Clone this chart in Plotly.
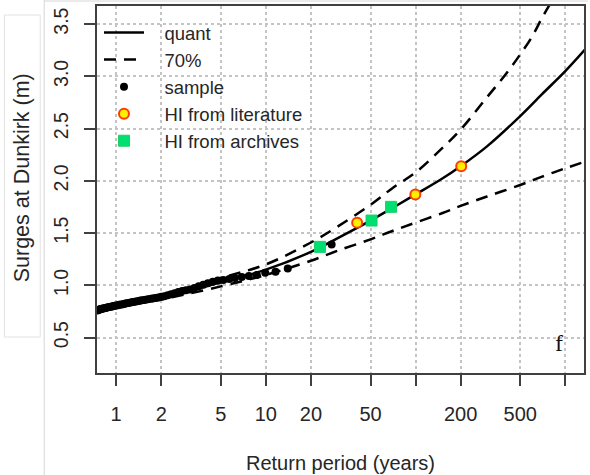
import plotly.graph_objects as go

# ---------------- data ----------------
curve_T = [0.7, 1, 2, 5, 10, 20, 30, 50, 70, 100, 150, 200, 300, 500, 700, 1000, 1400]
quant = [0.765, 0.80, 0.88, 1.03, 1.15, 1.32, 1.45, 1.62, 1.74, 1.87, 2.02, 2.14, 2.33, 2.62, 2.83, 3.05, 3.28]
lower70 = [0.755, 0.79, 0.865, 0.99, 1.10, 1.235, 1.33, 1.44, 1.52, 1.60, 1.69, 1.76, 1.85, 1.96, 2.04, 2.12, 2.19]
upper_T = [0.7, 1, 2, 5, 10, 20, 30, 50, 70, 100, 150, 200, 300, 400, 500, 600, 700, 750, 850]
upper70 = [0.775, 0.81, 0.895, 1.07, 1.20, 1.41, 1.56, 1.77, 1.93, 2.08, 2.31, 2.49, 2.80, 3.02, 3.21, 3.38, 3.56, 3.635, 3.77]

sample_T = [0.75, 0.76, 0.77, 0.78, 0.79, 0.80, 0.82, 0.83, 0.85, 0.86,
            0.88, 0.90, 0.92, 0.94, 0.96, 0.98, 1.00, 1.03, 1.05, 1.08,
            1.11, 1.14, 1.17, 1.21, 1.25, 1.29, 1.33, 1.38, 1.43, 1.48,
            1.54, 1.60, 1.67, 1.74, 1.82, 1.91, 2.00, 2.10, 2.21, 2.33,
            2.46, 2.60, 2.76, 2.93, 3.12, 3.33, 3.56, 3.82, 4.10, 4.42,
            4.78, 5.2, 5.7, 6.2, 6.9, 7.7, 8.7, 9.9, 11.6, 14.0, 27.5]
sample_v = [0.760, 0.765, 0.768, 0.770, 0.772, 0.775, 0.778, 0.780, 0.783, 0.786,
            0.789, 0.792, 0.795, 0.798, 0.801, 0.804, 0.807, 0.810, 0.813, 0.817,
            0.820, 0.824, 0.828, 0.832, 0.836, 0.840, 0.844, 0.848, 0.852, 0.856,
            0.860, 0.864, 0.868, 0.873, 0.878, 0.884, 0.890, 0.896, 0.905, 0.915,
            0.925, 0.935, 0.945, 0.952, 0.960, 0.975, 0.990, 1.005, 1.02, 1.035,
            1.045, 1.05, 1.06, 1.07, 1.08, 1.09, 1.10, 1.12, 1.13, 1.16, 1.39]

lit_T = [40.7, 99.6, 201.7]
lit_v = [1.60, 1.87, 2.14]
arch_T = [23.0, 50.8, 68.6]
arch_v = [1.368, 1.62, 1.751]

x_tickvals = [1, 2, 5, 10, 20, 50, 100, 200, 500, 1000]
x_ticktext = ["1", "2", "5", "10", "20", "50", "", "200", "500", ""]
y_tickvals = [0.5, 1.0, 1.5, 2.0, 2.5, 3.0, 3.5]
y_ticktext = ["0.5", "1.0", "1.5", "2.0", "2.5", "3.0", "3.5"]

# ---------------- layout geometry ----------------
W, H = 590, 475
ML, MR, MT, MB = 97, 4, 6, 102
PW, PH = W - ML - MR, H - MT - MB


def pxx(px):
    return (px - ML) / PW


def pxy(py):
    return (H - MB - py) / PH


FONT = "Liberation Sans, Arial, sans-serif"
TXT = "#262626"
DASH = "12px,8px"
PAD = "\u00a0\u00a0\u00a0"

fig = go.Figure()

fig.add_trace(go.Scatter(x=sample_T, y=sample_v, mode="markers", name=PAD + "sample",
                         marker=dict(symbol="circle", size=8, color="black"),
                         legendrank=3))
fig.add_trace(go.Scatter(x=curve_T, y=quant, mode="lines", name=PAD + "quant",
                         line=dict(color="black", width=2.5, shape="spline"),
                         legendrank=1))
fig.add_trace(go.Scatter(x=upper_T, y=upper70, mode="lines", name=PAD + "70%",
                         line=dict(color="black", width=2.5, dash=DASH, shape="spline"),
                         legendrank=2))
fig.add_trace(go.Scatter(x=curve_T, y=lower70, mode="lines", name="70% lower",
                         line=dict(color="black", width=2.5, dash=DASH, shape="spline"),
                         showlegend=False))
fig.add_trace(go.Scatter(x=lit_T, y=lit_v, mode="markers", name=PAD + "HI from literature",
                         marker=dict(symbol="circle", size=10, color="#ffee00",
                                     line=dict(color="#ff3a00", width=2)),
                         legendrank=4))
fig.add_trace(go.Scatter(x=arch_T, y=arch_v, mode="markers", name=PAD + "HI from archives",
                         marker=dict(symbol="square", size=11, color="#00e070",
                                     line=dict(color="#22cc66", width=1)),
                         legendrank=5))

axis_common = dict(showline=True, linecolor="#404040", linewidth=2, mirror=True,
                   ticks="outside", ticklen=11, tickwidth=2, tickcolor="#404040",
                   showgrid=True, gridcolor="#c4c4c4", gridwidth=1.5, griddash="dot",
                   zeroline=False)

fig.update_xaxes(type="log", range=[-0.128, 3.125], tickmode="array",
                 tickvals=x_tickvals, ticktext=x_ticktext, ticklabelstandoff=11,
                 tickfont=dict(family=FONT, size=20, color=TXT), **axis_common)
fig.update_yaxes(range=[0.161, 3.673], tickmode="array", tickvals=y_tickvals,
                 ticktext=y_ticktext, tickangle=-90, ticklabelstandoff=8,
                 tickfont=dict(family=FONT, size=19.5, color=TXT), **axis_common)

shapes = [
    dict(type="line", xref="paper", yref="paper", x0=pxx(44), x1=pxx(44), y0=pxy(0), y1=pxy(475),
         line=dict(color="#d6d6d6", width=1)),
    dict(type="line", xref="paper", yref="paper", x0=pxx(44), x1=pxx(590), y0=pxy(1), y1=pxy(1),
         line=dict(color="#d6d6d6", width=1)),
    dict(type="rect", xref="paper", yref="paper", x0=pxx(4), x1=pxx(40), y0=pxy(15), y1=pxy(337),
         line=dict(color="#e2e2e2", width=1)),
]

annotations = [
    dict(text="Return period (years)", xref="paper", yref="paper", x=pxx(342), y=pxy(463),
         showarrow=False, font=dict(family=FONT, size=20, color=TXT), xanchor="center", yanchor="middle"),
    dict(text="Surges at Dunkirk (m)", xref="paper", yref="paper", x=pxx(22), y=pxy(178),
         showarrow=False, textangle=-90, font=dict(family=FONT, size=21.5, color=TXT),
         xanchor="center", yanchor="middle"),
    dict(text="f", xref="paper", yref="paper", x=pxx(561), y=pxy(343),
         showarrow=False, font=dict(family="Liberation Serif, Times New Roman, serif", size=24, color="#111"),
         xanchor="center", yanchor="middle"),
]

fig.update_layout(
    width=W, height=H, margin=dict(l=ML, r=MR, t=MT, b=MB),
    paper_bgcolor="white", plot_bgcolor="white",
    showlegend=True,
    legend=dict(x=pxx(99), y=pxy(14), xanchor="left", yanchor="top",
                bgcolor="rgba(0,0,0,0)", font=dict(family=FONT, size=18.5, color=TXT),
                itemwidth=40, traceorder="normal"),
    shapes=shapes, annotations=annotations,
)

fig.write_html("out.html", config={"displayModeBar": False},
               post_script="document.body.style.margin='0px';document.body.style.overflow='hidden';")
